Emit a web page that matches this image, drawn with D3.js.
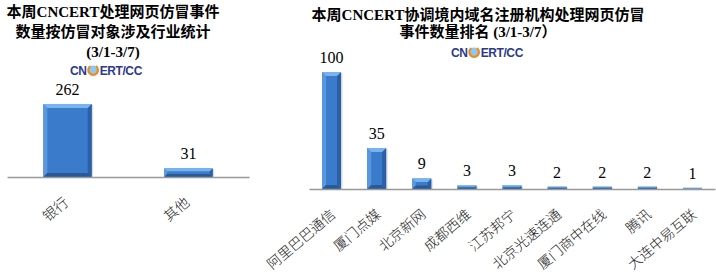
<!DOCTYPE html>
<html>
<head>
<meta charset="utf-8">
<script src="https://cdn.jsdelivr.net/npm/d3@7"></script>
<style>
  body { margin: 0; background: #fff; }
  svg { display: block; }
  .title { font-family: "Liberation Serif", "Noto Sans CJK SC", serif; font-weight: bold; font-size: 15px; fill: #000; }
  .val { font-family: "Liberation Serif", serif; font-size: 16px; fill: #000; }
  .cat { font-family: "Noto Sans CJK SC", sans-serif; font-size: 14px; font-weight: 300; fill: #222; }
  .logo { font-family: "Liberation Sans", Arial, sans-serif; font-weight: bold; font-size: 12px; fill: #2b3990; letter-spacing: -0.4px; }
</style>
</head>
<body>
<svg id="chart"></svg>
<script>
// left chart: 按仿冒对象涉及行业
var leftCats = ["银行", "其他"];
var leftVals = [262, 31];
var leftTitle = ["本周CNCERT处理网页仿冒事件", "数量按仿冒对象涉及行业统计", "(3/1-3/7)"];

// right chart: 域名注册机构排名
var rightCats = ["阿里巴巴通信", "厦门点媒", "北京新网", "成都西维", "江苏邦宁", "北京光速连通", "厦门商中在线", "腾讯", "大连中易互联"];
var rightVals = [100, 35, 9, 3, 3, 2, 2, 2, 1];
var rightTitle = ["本周CNCERT协调境内域名注册机构处理网页仿冒", "事件数量排名 (3/1-3/7）"];

var width = 716, height = 276;
var svg = d3.select("#chart").attr("width", width).attr("height", height);

function drawTitle(lines, cx, y0, gap) {
    svg.selectAll(null).data(lines).enter().append("text")
        .attr("class", "title")
        .attr("x", cx)
        .attr("y", function(d, i) { return y0 + i * gap; })
        .attr("text-anchor", "middle")
        .text(function(d) { return d; });
}

function drawLogo(cx, cy) {
    var g = svg.append("g");
    var r = 5.5;
    var t1 = g.append("text").attr("class", "logo").attr("y", cy + 4.5).text("CN");
    var t2 = g.append("text").attr("class", "logo").attr("y", cy + 4.5).text("ERT/CC");
    var w1 = t1.node().getComputedTextLength(), w2 = t2.node().getComputedTextLength();
    var total = w1 + 2 * r + 2 + w2;
    var x0 = cx - total / 2;
    t1.attr("x", x0);
    var gc = x0 + w1 + 1 + r;
    g.append("circle").attr("cx", gc).attr("cy", cy).attr("r", r - 1).attr("fill", "#8ec9ee");
    g.append("path")
        .attr("transform", "translate(" + gc + "," + cy + ")")
        .attr("d", d3.arc().innerRadius(r - 1.8).outerRadius(r + 0.4).startAngle(0.6).endAngle(2 * Math.PI - 0.6)())
        .attr("fill", "#f08a1c");
    t2.attr("x", gc + r + 1);
}

function drawBars(cats, vals, x, y, base, labelDx, labelDy) {
    var bw = x.bandwidth();
    var g = svg.append("g");
    cats.forEach(function(c, i) {
        var x0 = x(c), x1 = x0 + bw, yt = y(vals[i]), h = base - yt;
        var b = Math.min(4, h / 3, bw / 4);
        // shadow
        g.append("rect").attr("x", x0 + 1.5).attr("y", yt + 1).attr("width", bw).attr("height", h)
            .attr("fill", "#bbb").attr("opacity", 0.5);
        g.append("rect").attr("x", x0).attr("y", yt).attr("width", bw).attr("height", h).attr("fill", "#3b7bcb");
        if (b > 0.6) {
            g.append("polygon").attr("fill", "#5a98de")
                .attr("points", [[x0, yt], [x0 + b, yt + b], [x0 + b, base - b], [x0, base]].join(" "));
            g.append("polygon").attr("fill", "#2a60a6")
                .attr("points", [[x1, yt], [x1 - b, yt + b], [x1 - b, base - b], [x1, base]].join(" "));
            g.append("polygon").attr("fill", "#77b3ee")
                .attr("points", [[x0, yt], [x1, yt], [x1 - b, yt + b], [x0 + b, yt + b]].join(" "));
            g.append("polygon").attr("fill", "#285a98")
                .attr("points", [[x0, base], [x1, base], [x1 - b, base - b], [x0 + b, base - b]].join(" "));
        } else {
            g.append("rect").attr("x", x0).attr("y", yt).attr("width", bw).attr("height", Math.min(1, h)).attr("fill", "#6aa6e6");
        }
        g.append("text").attr("class", "val")
            .attr("x", x0 + bw / 2).attr("y", yt - 9)
            .attr("text-anchor", "middle").text(vals[i]);
    });
    // axis baseline + rotated category labels
    var axis = d3.axisBottom(x).tickSize(0).tickPadding(0);
    var ax = svg.append("g").attr("transform", "translate(0," + base + ")").call(axis);
    ax.select(".domain").attr("stroke", "#999").attr("stroke-width", 1.6);
    ax.selectAll(".tick text")
        .attr("class", "cat")
        .attr("text-anchor", "end")
        .attr("dy", null)
        .attr("y", 0)
        .attr("transform", "translate(" + labelDx + "," + labelDy + ") rotate(-40)");
}

// left
var xL = d3.scaleBand().domain(leftCats).range([7, 249]).paddingInner(0.6).paddingOuter(0.3);
var yL = d3.scaleLinear().domain([0, 262]).range([177, 104]);
drawTitle(leftTitle, 113, 17, 20);
drawLogo(106, 70);
drawBars(leftCats, leftVals, xL, yL, 177, 2, 27);

// right
var xR = d3.scaleBand().domain(rightCats).range([309, 715]).paddingInner(0.58).paddingOuter(0.29);
var yR = d3.scaleLinear().domain([0, 100]).range([189, 72]);
drawTitle(rightTitle, 478, 20, 17);
drawLogo(487, 52);
drawBars(rightCats, rightVals, xR, yR, 189, 5, 27);
</script>
</body>
</html>
